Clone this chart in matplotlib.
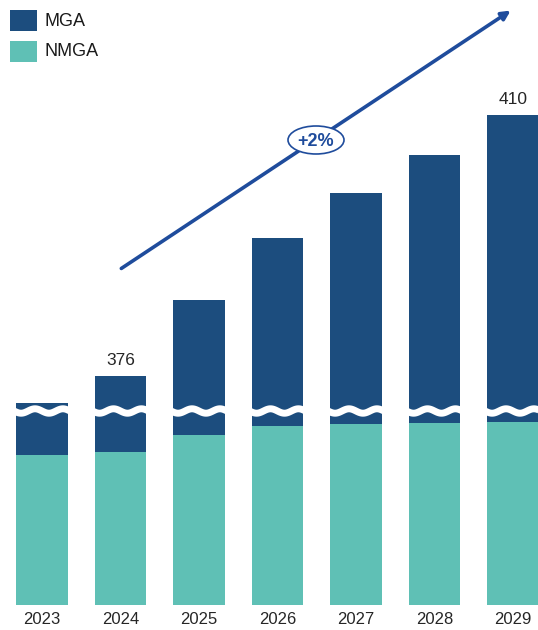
import numpy as np
import matplotlib.pyplot as plt
from matplotlib.patches import Ellipse, Rectangle

plt.rcParams['font.family'] = ['Liberation Sans', 'DejaVu Sans']

years = ['2023', '2024', '2025', '2026', '2027', '2028', '2029']
total = [372.5, 376, 385.9, 394.0, 399.8, 404.8, 410]   # top of stacked bars (upper scale)
nmga = [277, 282, 314, 330, 334, 336, 338]               # lower (truncated) scale
labelled = {1: '376', 6: '410'}
growth_label = '+2%'
series = ['MGA', 'NMGA']

c_mga = '#1c4d7e'
c_nmga = '#5fc0b5'
c_arrow = '#1f4c9c'

break_low = 360.0    # top of the lower axis
break_high = 371.6   # bottom of the upper axis

fig = plt.figure(figsize=(5.38, 6.30), dpi=100)
W, H = 538.0, 630.0

x = np.arange(len(years))
xlim = (-42 / 78.5, 6 + 25 / 78.5)
bw = 0.66

y_bottom = (H - 605) / H
y_break = (H - 410) / H
ax_lo = fig.add_axes([0, y_bottom, 1, y_break - y_bottom])
ax_hi = fig.add_axes([0, y_break, 1, 1 - y_break])

# lower part: NMGA + part of MGA up to break
ax_lo.bar(x, nmga, width=bw, color=c_nmga, linewidth=0)
ax_lo.bar(x, [break_low - v for v in nmga], bottom=nmga, width=bw, color=c_mga, linewidth=0)
ax_lo.set_ylim(0, break_low)

# upper part: rest of MGA
ax_hi.bar(x, [t - break_high for t in total], bottom=break_high, width=bw, color=c_mga, linewidth=0)
ax_hi.set_ylim(break_high, 376 + 376 * (34 / 261))

for ax in (ax_lo, ax_hi):
    ax.set_xlim(*xlim)
    for s in ax.spines.values():
        s.set_visible(False)
    ax.set_yticks([])
    ax.patch.set_alpha(0)
ax_hi.set_xticks([])
ax_lo.set_xticks(x)
ax_lo.set_xticklabels(years, fontsize=12, color='#262626')
ax_lo.tick_params(axis='x', length=0, pad=5)

# wavy break marks
ov = fig.add_axes([0, 0, 1, 1])
ov.set_xlim(0, W)
ov.set_ylim(H, 0)
ov.axis('off')
for xi in x:
    cx = (xi - xlim[0]) / (xlim[1] - xlim[0]) * W
    half = bw / 2 / (xlim[1] - xlim[0]) * W + 2
    xs = np.linspace(cx - half, cx + half, 100)
    ys = 411 + 2.2 * np.sin((xs - (cx - half)) / (2 * half) * 4 * np.pi)
    ov.plot(xs, ys, color='white', lw=5, solid_capstyle='butt')

# value labels
for i, txt in labelled.items():
    ax_hi.text(x[i], total[i] + 1.1, txt, ha='center', va='bottom', fontsize=12.5, color='#262626')

# growth arrow
ov.annotate('', xy=(513, 9), xytext=(119, 270),
            arrowprops=dict(arrowstyle='-|>', color=c_arrow, lw=2.6, mutation_scale=13))
ov.add_patch(Ellipse((316, 140), 56, 28, facecolor='white', edgecolor=c_arrow, lw=1.2, zorder=5))
ov.text(316, 141, growth_label, ha='center', va='center', fontsize=13, fontweight='bold',
        color=c_arrow, zorder=6)

# legend (drawn by hand)
for k, (name, col) in enumerate(zip(series, [c_mga, c_nmga])):
    top = 10 + k * 31
    ov.add_patch(Rectangle((10, top), 27, 21, facecolor=col, edgecolor='none'))
    ov.text(45, top + 11, name, ha='left', va='center', fontsize=13, color='#1a1a1a')

fig.savefig('out.png', dpi=100)
